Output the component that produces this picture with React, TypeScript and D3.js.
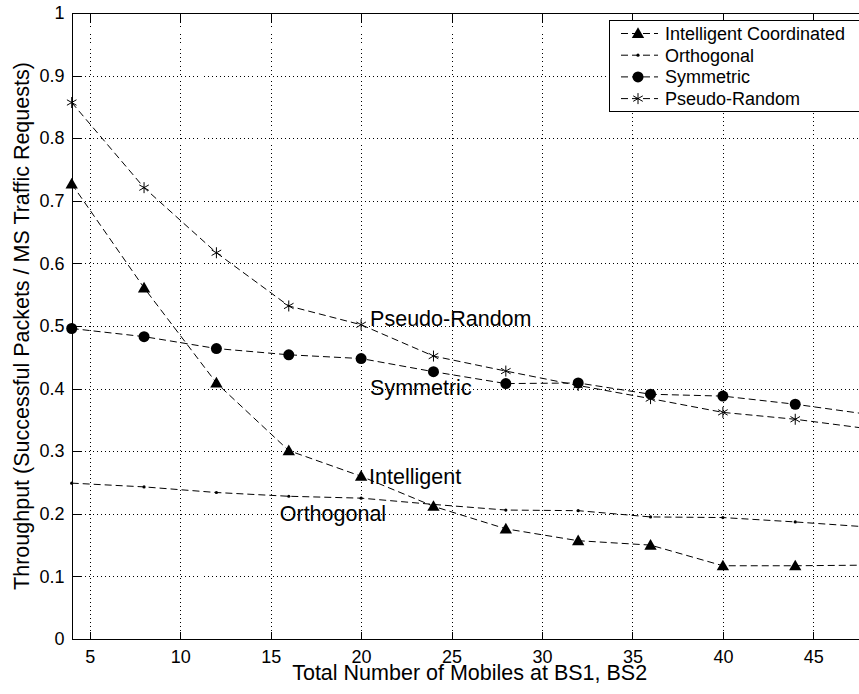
import React, { useEffect, useRef } from 'react';
import * as d3 from 'd3';

// total number of mobiles at BS1, BS2
const mobiles = [4, 8, 12, 16, 20, 24, 28, 32, 36, 40, 44, 48];
const intelligent = [0.727, 0.561, 0.409, 0.301, 0.260, 0.212, 0.176, 0.157, 0.150, 0.117, 0.117, 0.118];
const orthogonal = [0.249, 0.243, 0.234, 0.228, 0.225, 0.215, 0.206, 0.205, 0.195, 0.194, 0.187, 0.179];
const symmetric = [0.496, 0.483, 0.464, 0.454, 0.448, 0.427, 0.408, 0.409, 0.391, 0.388, 0.375, 0.359];
const pseudoRandom = [0.857, 0.721, 0.617, 0.532, 0.502, 0.452, 0.428, 0.405, 0.384, 0.362, 0.351, 0.336];

const seriesNames = ['Intelligent Coordinated', 'Orthogonal', 'Symmetric', 'Pseudo-Random'];
const seriesMarkers = ['triangle', 'dot', 'circle', 'star'];

const xTicks = [5, 10, 15, 20, 25, 30, 35, 40, 45];
const yTicks = [0, 0.1, 0.2, 0.3, 0.4, 0.5, 0.6, 0.7, 0.8, 0.9, 1];

const FONT = 'Liberation Sans, Arial, sans-serif';

export default function App() {
  const ref = useRef<SVGSVGElement>(null);

  useEffect(() => {
    const svg = d3.select(ref.current);
    svg.selectAll('*').remove();

    const x = d3.scaleLinear().domain([4, 48]).range([71.7, 867.6]);
    const y = d3.scaleLinear().domain([0, 1]).range([639, 13]);
    const px = (v: number) => Math.round(v) + 0.5;

    const left = px(x(4));
    const bottom = px(y(0));
    const top = px(y(1));
    const right = x(48);

    svg.append('rect').attr('width', 859).attr('height', 694).attr('fill', '#fff');

    // dotted grid
    const grid = svg.append('g')
        .attr('stroke', '#000')
        .attr('stroke-width', 1)
        .attr('stroke-dasharray', '1,3')
        .attr('shape-rendering', 'crispEdges');
    grid.selectAll('.vgrid')
        .data(xTicks)
        .enter()
        .append('line')
        .attr('x1', (d) => px(x(d)))
        .attr('x2', (d) => px(x(d)))
        .attr('y1', top)
        .attr('y2', bottom);
    grid.selectAll('.hgrid')
        .data(yTicks.slice(1, -1))
        .enter()
        .append('line')
        .attr('x1', left)
        .attr('x2', right)
        .attr('y1', (d) => px(y(d)))
        .attr('y2', (d) => px(y(d)));

    // axes, ticks inside the box
    const xAxis = svg.append('g')
        .attr('transform', `translate(0, ${bottom})`)
        .call(d3.axisBottom(x).tickValues(xTicks).tickSize(-8).tickPadding(11).tickSizeOuter(0));
    const topAxis = svg.append('g')
        .attr('transform', `translate(0, ${top})`)
        .call(d3.axisTop(x).tickValues(xTicks).tickSize(-8).tickSizeOuter(0).tickFormat(() => ''));
    const yAxis = svg.append('g')
        .attr('transform', `translate(${left}, 0)`)
        .call(d3.axisLeft(y).tickValues(yTicks).tickSize(-8).tickPadding(8).tickSizeOuter(0)
            .tickFormat((d) => String(d)));
    [xAxis, topAxis, yAxis].forEach((a) => {
      a.select('.domain').remove();
      a.selectAll('line').attr('stroke', '#000').attr('shape-rendering', 'crispEdges');
      a.selectAll('text')
          .style('font-family', FONT)
          .style('font-size', '18px')
          .attr('fill', '#000');
    });

    // box
    svg.append('path')
        .attr('d', `M${right},${top}H${left}V${bottom}H${right}`)
        .attr('fill', 'none')
        .attr('stroke', '#000')
        .attr('stroke-width', 1)
        .attr('shape-rendering', 'crispEdges');

    const allSeries = [intelligent, orthogonal, symmetric, pseudoRandom];
    const line = d3.line<number>()
        .x((d, i) => x(mobiles[i]))
        .y((d) => y(d));

    const drawMarker = (g: any, kind: string, cx: number, cy: number) => {
      if (kind === 'triangle') {
        g.append('path')
            .attr('d', d3.symbol().type(d3.symbolTriangle).size(66)())
            .attr('transform', `translate(${cx}, ${cy + 1})`)
            .attr('fill', '#000');
      } else if (kind === 'circle') {
        g.append('circle').attr('cx', cx).attr('cy', cy).attr('r', 5.5).attr('fill', '#000');
      } else if (kind === 'dot') {
        g.append('circle').attr('cx', cx).attr('cy', cy).attr('r', 1.6).attr('fill', '#000');
      } else {
        const r = 5.5;
        const s = g.append('g').attr('stroke', '#000').attr('stroke-width', 1);
        s.append('line').attr('x1', cx).attr('x2', cx).attr('y1', cy - r).attr('y2', cy + r);
        s.append('line').attr('x1', cx - r * 0.87).attr('x2', cx + r * 0.87)
            .attr('y1', cy - r * 0.5).attr('y2', cy + r * 0.5);
        s.append('line').attr('x1', cx - r * 0.87).attr('x2', cx + r * 0.87)
            .attr('y1', cy + r * 0.5).attr('y2', cy - r * 0.5);
      }
    };

    allSeries.forEach((values, si) => {
      svg.append('path')
          .attr('d', line(values))
          .attr('fill', 'none')
          .attr('stroke', '#000')
          .attr('stroke-width', 1)
          .attr('stroke-dasharray', '7,4');
      const mg = svg.append('g');
      values.forEach((v, i) => drawMarker(mg, seriesMarkers[si], x(mobiles[i]), y(v)));
    });

    // labels next to the curves
    const notes = [
      { text: 'Pseudo-Random', xv: 20, yv: pseudoRandom[4], dx: 9, dy: 1 },
      { text: 'Symmetric', xv: 20, yv: symmetric[4], dx: 9, dy: 36 },
      { text: 'Intelligent', xv: 20, yv: intelligent[4], dx: 8, dy: 8 },
      { text: 'Orthogonal', xv: 16, yv: orthogonal[3], dx: -9, dy: 25 },
    ];
    svg.selectAll('.note')
        .data(notes)
        .enter()
        .append('text')
        .attr('x', (d) => x(d.xv) + d.dx)
        .attr('y', (d) => y(d.yv) + d.dy)
        .text((d) => d.text)
        .style('font-family', FONT)
        .style('font-size', '21.5px')
        .attr('fill', '#000');

    // axis titles
    svg.append('text')
        .attr('x', (x(4) + x(48)) / 2)
        .attr('y', 680)
        .attr('text-anchor', 'middle')
        .text('Total Number of Mobiles at BS1, BS2')
        .style('font-family', FONT)
        .style('font-size', '21.5px');
    svg.append('text')
        .attr('transform', `translate(29, ${(y(0) + y(1)) / 2}) rotate(-90)`)
        .attr('text-anchor', 'middle')
        .text('Throughput (Successful Packets / MS Traffic Requests)')
        .style('font-family', FONT)
        .style('font-size', '21.5px');

    // legend
    const legend = svg.append('g');
    legend.append('rect')
        .attr('x', 609.5)
        .attr('y', 20.5)
        .attr('width', 270)
        .attr('height', 91)
        .attr('fill', '#fff')
        .attr('stroke', '#000')
        .attr('shape-rendering', 'crispEdges');
    seriesNames.forEach((name, i) => {
      const ly = 33.5 + i * 21.7;
      legend.append('line')
          .attr('x1', 621)
          .attr('x2', 658)
          .attr('y1', ly)
          .attr('y2', ly)
          .attr('stroke', '#000')
          .attr('stroke-dasharray', '7,4');
      drawMarker(legend, seriesMarkers[i], 638, ly);
      legend.append('text')
          .attr('x', 665)
          .attr('y', ly)
          .attr('dy', '0.35em')
          .text(name)
          .style('font-family', FONT)
          .style('font-size', '18px');
    });
  }, []);

  return (
    <div style={{ position: 'absolute', left: 0, top: 0 }}>
      <svg ref={ref} width={859} height={694} style={{ display: 'block' }} />
    </div>
  );
}
